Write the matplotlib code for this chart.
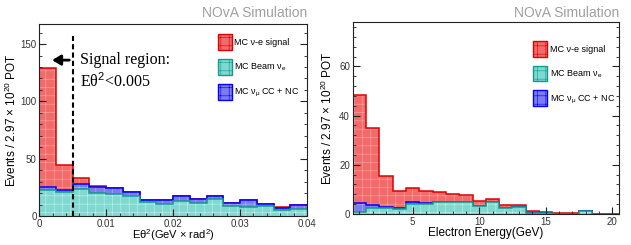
import numpy as np
import matplotlib
matplotlib.use("Agg")
import matplotlib.pyplot as plt
from matplotlib.ticker import MultipleLocator, FixedLocator
from matplotlib.patches import Patch

plt.rcParams['font.family'] = ['Liberation Sans', 'DejaVu Sans']
plt.rcParams['mathtext.fontset'] = 'custom'
plt.rcParams['mathtext.rm'] = 'Liberation Sans'
plt.rcParams['mathtext.it'] = 'Liberation Sans:italic'
plt.rcParams['hatch.linewidth'] = 0.4

# left panel: E*theta^2, bins of 0.0025
etheta_edges = np.linspace(0, 0.04, 17)
etheta_beam = [23, 20.5, 23.3, 19.8, 19, 17.7, 11.9, 10.2, 13.2, 11, 14.8, 8.5, 8, 9, 4.8, 5.8]
etheta_numu = [2, 2, 4.3, 5.8, 5.1, 3.3, 2.1, 3.8, 4, 3.7, 2.5, 2.5, 6, 1.5, 2, 3.6]
etheta_signal = [104, 22, 5.2, 0.9, 0.6, 0.3, 0, 0, 0, 0.3, 0.1, 0, 0, 0.3, 0.8, 0]

# right panel: electron energy, bins of 1 GeV
energy_edges = np.arange(0.5, 21.0, 1.0)
energy_beam = [0.8, 2.6, 2.4, 1.9, 4.1, 4.1, 4.7, 4.7, 4.7, 3.1, 4.7, 2.4, 2.9, 0.5, 0.4, 0.1, 0, 1.1, 0, 0]
energy_numu = [3.5, 0.9, 0.6, 0.4, 0.6, 0.2, 0.1, 0.1, 0.1, 0.1, 0.1, 0.1, 0.1, 0.1, 0, 0, 0, 0, 0, 0]
energy_signal = [44.2, 31.5, 12.4, 7.1, 5.9, 4.9, 4.1, 3.2, 2.8, 1.9, 1.2, 1.1, 0.6, 0.8, 0.3, 0.4, 0.3, 0, 0, 0]

labels = ["MC \u03bd-e signal", "MC Beam \u03bd$_{\\mathrm{e}}$", "MC \u03bd$_{\\mathrm{\u03bc}}$ CC + NC"]
fills = ['#f26a6a', '#7fd9d0', '#7c7cf0']
lines = ['#dd0000', '#139a8e', '#0000ff']
grid_col = ['#f9a8a8', '#c4efea', '#b8b8f8']


def draw_stack(ax, edges, beam, numu, signal):
    beam = np.array(beam)
    lvl1 = beam + np.array(numu)
    lvl2 = lvl1 + np.array(signal)
    # signal on top, then numu, then beam nue at the bottom
    layers = [(lvl1, lvl2, 0), (beam, lvl1, 2), (np.zeros_like(beam), beam, 1)]
    for low, top, k in layers:
        ax.stairs(top, edges, baseline=low, fill=True, facecolor=fills[k],
                  edgecolor=grid_col[k], hatch='++', linewidth=0)
        ax.stairs(top, edges, baseline=None, color=lines[k], linewidth=1.1)
    return [Patch(facecolor=fills[k], edgecolor=lines[k], hatch='++', linewidth=1.0)
            for k in range(3)]


def style(ax):
    for s in ax.spines.values():
        s.set_color('#222222')
        s.set_linewidth(0.8)
    ax.tick_params(which='both', direction='in', right=True, top=False,
                   labelsize=7, colors='#222222', labelcolor='#333333', pad=2)
    ax.tick_params(which='major', length=5)
    ax.tick_params(which='minor', length=2.5)


fig = plt.figure(figsize=(6.31, 2.45), dpi=100)

ax1 = fig.add_axes([0.0623, 0.1184, 0.4242, 0.7836])
hl = draw_stack(ax1, etheta_edges, etheta_beam, etheta_numu, etheta_signal)
ax1.set_xlim(0, 0.04)
ax1.set_ylim(0, 167.5)
ax1.xaxis.set_major_locator(FixedLocator([0, 0.01, 0.02, 0.03, 0.04]))
ax1.set_xticklabels(['0', '0.01', '0.02', '0.03', '0.04'])
ax1.xaxis.set_minor_locator(MultipleLocator(0.002))
ax1.yaxis.set_major_locator(MultipleLocator(50))
ax1.yaxis.set_minor_locator(MultipleLocator(10))
style(ax1)
ax1.set_ylabel(r"Events / 2.97 $\times$ 10$^{20}$ POT", fontsize=8.5, labelpad=1)
ax1.set_xlabel("E\u03b8$^2$(GeV \u00d7 rad$^2$)", fontsize=8, labelpad=-1)
ax1.axvline(0.005, ymin=0, ymax=157 / 167.5, color='black', lw=1.5, dashes=(2.5, 1.5))
ax1.annotate('', xy=(0.0015, 136), xytext=(0.0049, 136),
             arrowprops=dict(arrowstyle='-|>,head_length=0.5,head_width=0.3', color='black', lw=2))
ax1.text(0.00615, 136, "Signal region:", family=['Liberation Serif'], fontsize=11.5, va='center')
ax1.text(0.00615, 117, r"E$\mathregular{\theta}^2$<0.005", family=['Liberation Serif'],
         fontsize=11.5, va='center')
ax1.legend(hl, labels, loc='upper left', bbox_to_anchor=(0.655, 0.965), frameon=False,
           fontsize=6.5, handlelength=1.5, handleheight=2.3, labelspacing=1.0,
           handletextpad=0.3, borderaxespad=0)
fig.text(0.4865, 0.945, "NOvA Simulation", ha='right', va='center', fontsize=10, color='#a0a0a0')

ax2 = fig.add_axes([0.559, 0.1265, 0.422, 0.7835])
hr = draw_stack(ax2, energy_edges, energy_beam, energy_numu, energy_signal)
ax2.set_xlim(0.5, 20.5)
ax2.set_ylim(0, 78)
ax2.xaxis.set_major_locator(FixedLocator([5, 10, 15, 20]))
ax2.xaxis.set_minor_locator(MultipleLocator(1))
ax2.yaxis.set_major_locator(MultipleLocator(20))
ax2.yaxis.set_minor_locator(MultipleLocator(4))
style(ax2)
ax2.set_ylabel(r"Events / 2.97 $\times$ 10$^{20}$ POT", fontsize=8.5, labelpad=3)
ax2.set_xlabel("Electron Energy(GeV)", fontsize=8.5, labelpad=0)
ax2.legend(hr, labels, loc='upper left', bbox_to_anchor=(0.665, 0.92), frameon=False,
           fontsize=6.5, handlelength=1.5, handleheight=2.3, labelspacing=1.0,
           handletextpad=0.3, borderaxespad=0)
fig.text(0.981, 0.945, "NOvA Simulation", ha='right', va='center', fontsize=10, color='#a0a0a0')

fig.savefig("out.png", dpi=100)
